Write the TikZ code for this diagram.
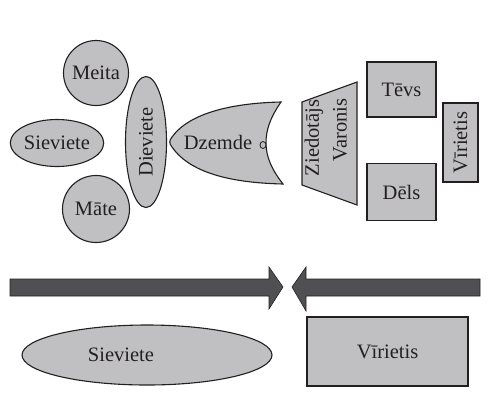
\documentclass[tikz,border=0pt]{standalone}
\usepackage{fontspec}
\setmainfont{Liberation Serif}
\usetikzlibrary{shapes.geometric}
\definecolor{fillg}{HTML}{C0C0C2}
\definecolor{arrg}{HTML}{505052}
\definecolor{inkc}{HTML}{231F20}
\begin{document}
\begin{tikzpicture}[x=1pt,y=-1pt,
  every node/.style={font=\fontsize{20.5}{25}\selectfont, text=inkc},
  shp/.style={draw=inkc, line width=1.1pt, fill=fillg},
  arr/.style={draw=inkc, line width=0.6pt, fill=arrg},
  lbl/.style={inner sep=0pt}]
\useasboundingbox (0,0) rectangle (497,400);
% left cluster
\node[shp, circle, minimum size=65, inner sep=0] (meita) at (96,73) {Meita};
\node[shp, circle, minimum size=67, inner sep=0] (mate) at (96,209) {Māte};
\node[shp, ellipse, minimum width=80, minimum height=47, inner sep=0] (siev) at (57,143) {Sieviete};
\node[shp, ellipse, rotate=90, minimum width=131, minimum height=41, inner sep=0] (diev) at (146,142) {Dieviete};
% Dzemde
\draw[shp] (281,102) .. controls (270,118) and (266,130) .. (266,143)
  .. controls (266,157) and (272,170) .. (283,184)
  .. controls (240,183) and (192,176) .. (172,147)
  .. controls (169,143) and (169,141) .. (172,137)
  .. controls (190,112) and (235,103) .. (281,102) -- cycle;
\node[lbl] (dzemde) at (218,142) {Dzemde};
\node[draw=inkc, line width=0.8pt, fill=fillg, ellipse, minimum width=6, minimum height=7, inner sep=0] (dot) at (263,145) {};
% Ziedotajs Varonis trapezoid
\coordinate (t1) at (302,102);
\coordinate (t2) at (357,82);
\coordinate (t3) at (357,205);
\coordinate (t4) at (302,185);
\draw[shp] (t1) -- (t2) -- (t3) -- (t4) -- cycle;
\node[lbl, rotate=90] (zied) at (314,138) {Ziedotājs};
\node[lbl, rotate=90] (varon) at (340,130) {Varonis};
% right boxes
\node[shp, rectangle, minimum width=69, minimum height=55, inner sep=0] (tevs) at (401.5,89.5) {Tēvs};
\node[shp, rectangle, minimum width=69, minimum height=57, inner sep=0] (dels) at (401.5,192) {Dēls};
\node[shp, rectangle, rotate=90, minimum width=79, minimum height=35, inner sep=0] (vir1) at (460.5,142.5) {Vīrietis};
% arrows
\draw[arr] (10,279) -- (269,279) -- (269,267) -- (283,287) -- (269,309) -- (269,296) -- (10,296) -- cycle;
\draw[arr] (480,279) -- (306,279) -- (306,267) -- (292,287) -- (306,311) -- (306,296) -- (480,296) -- cycle;
% bottom
\node[shp, ellipse, minimum width=250, minimum height=60, inner sep=0] (siev2) at (147,355) {};
\node[lbl] (siev2t) at (121,355) {Sieviete};
\node[shp, rectangle, minimum width=161, minimum height=69, inner sep=0] (vir2) at (387.5,351.5) {Vīrietis};
\end{tikzpicture}
\end{document}
